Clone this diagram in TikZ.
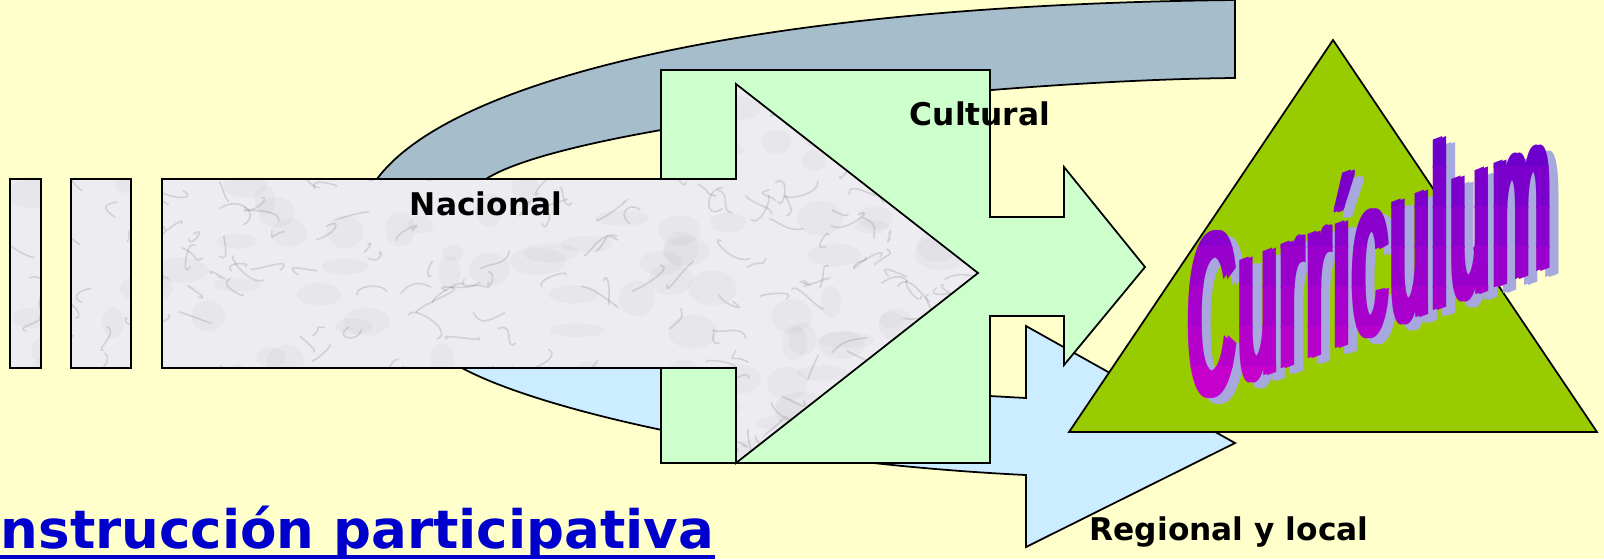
\documentclass[tikz,border=0pt]{standalone}
\usepackage{fontspec}
\newfontfamily\labelfont{DejaVu Sans}
\newfontfamily\wordartfont{Liberation Sans}

\definecolor{bgyellow}{HTML}{FFFFCC}
\definecolor{bandgrey}{HTML}{A6BDCC}
\definecolor{callgreen}{HTML}{CCFFCC}
\definecolor{bandblue}{HTML}{CCECFF}
\definecolor{trigreen}{HTML}{99CC00}
\definecolor{marble}{HTML}{EDEDF1}
\definecolor{linkblue}{HTML}{0000CC}
\definecolor{wapurple}{HTML}{6600CC}
\definecolor{wamagenta}{HTML}{CC00CC}
\definecolor{washadow}{HTML}{A6A8DE}

\tikzset{
  blk/.style={draw=black, line width=0.5pt},
  vein/.style={draw=black!60, opacity=0.2, line width=0.45pt, line cap=round},
  blotch/.style={fill=black!60, opacity=0.045},
  lbl/.style={font=\labelfont\bfseries\fontsize{8.9}{10}\selectfont, inner sep=0pt, anchor=base},
  linktext/.style={font=\labelfont\bfseries\fontsize{15.1}{17}\selectfont, text=linkblue, inner sep=0pt, anchor=base west},
  wordart/.style={font=\wordartfont\bfseries\fontsize{67}{67}\selectfont, inner sep=0pt, anchor=base, yslant=0.38, xscale=0.29},
}

\begin{document}
\begin{tikzpicture}[x=1mm, y=-1mm]
\useasboundingbox (0,0) rectangle (160.4,55.9);
\fill[bgyellow] (0,0) rectangle (160.4,55.9);

% bands behind
\filldraw[blk, fill=bandgrey] (37.5,18.5) -- (37.7,17.9) .. controls (45.0,8.0) and (75.0,0.5) .. (123.5,0) -- (123.5,7.8) .. controls (100.0,8.0) and (57.0,12.5) .. (48.6,17.9) -- (49.0,18.5) -- cycle;
\filldraw[blk, fill=bandblue] (46.2,36.8) .. controls (54.0,41.0) and (76.0,46.2) .. (102.6,47.5) -- (102.6,54.7) -- (123.5,44.3) -- (102.6,32.6) -- (102.6,39.8) -- (99.0,39.6) .. controls (80.0,38.5) and (60.0,36.0) .. (52.0,33.0) -- cycle;

\filldraw[blk, fill=callgreen] (66.1,7.0) -- (99.0,7.0) -- (99.0,21.7) -- (106.4,21.7) -- (106.4,16.7) -- (114.5,26.7) -- (106.4,36.5) -- (106.4,31.6) -- (99.0,31.6) -- (99.0,46.3) -- (66.1,46.3) -- cycle;

% marble arrow
\begin{scope}
\clip (16.2,17.9) -- (73.6,17.9) -- (73.6,8.4) -- (97.8,27.3) -- (73.6,46.3) -- (73.6,36.8) -- (16.2,36.8) -- cycle
  (1.0,17.9) rectangle (4.1,36.8) (7.1,17.9) rectangle (13.1,36.8);
\fill[marble] (0,8) rectangle (98,47);
\pgfmathsetseed{17}
\foreach \i in {1,...,160} {
  \pgfmathsetmacro{\vx}{1+97*rnd}
  \pgfmathsetmacro{\vy}{8.4+38*rnd}
  \fill[blotch] (\vx,\vy) ellipse ({1+2*rnd} and {0.6+1.2*rnd});
}
\foreach \i in {1,...,260} {
  \pgfmathsetmacro{\vx}{1+97*rnd}
  \pgfmathsetmacro{\vy}{8.4+38*rnd}
  \draw[vein] (\vx,\vy) .. controls +(2*rand,1.5*rand) and +(2*rand,1.5*rand) .. +(3.5*rand,2.5*rand);
}
\end{scope}
\draw[blk] (16.2,17.9) -- (73.6,17.9) -- (73.6,8.4) -- (97.8,27.3) -- (73.6,46.3) -- (73.6,36.8) -- (16.2,36.8) -- cycle;
\draw[blk] (1.0,17.9) rectangle (4.1,36.8);
\draw[blk] (7.1,17.9) rectangle (13.1,36.8);

\filldraw[blk, fill=trigreen] (133.3,4.0) -- (159.7,43.2) -- (106.9,43.2) -- cycle;

\node[lbl] (nacional) at (48.6,21.5) {Nacional};
\node[lbl] (cultural) at (98.0,12.5) {Cultural};
\node[lbl] (regional) at (122.9,54.0) {Regional y local};
\node[linktext] (construccion) at (0.0,54.8) {nstrucción participativa};
\draw[linkblue, line width=1.1pt] ([yshift=-0.9mm]construccion.base west) -- ([yshift=-0.9mm]construccion.base east);

% word art: shadow, then the colour bands
\foreach \dx [count=\j] in {0,0.4}
  \node[wordart, text=washadow] (cshadow\j) at (137.7+\dx,34.2) {Currículum};
\foreach \k in {0,...,6} {
  \pgfmathsetmacro{\p}{(\k+0.5)*100/7}
  \begin{scope}
    \clip (110,12.6+4*\k) rectangle (160,16.7+4*\k);
    \foreach \dx [count=\j] in {0,0.4}
      \node[wordart, text=wamagenta!\p!wapurple] (cw\k\j) at (136.8+\dx,33.6) {Currículum};
  \end{scope}
}
\end{tikzpicture}
\end{document}
